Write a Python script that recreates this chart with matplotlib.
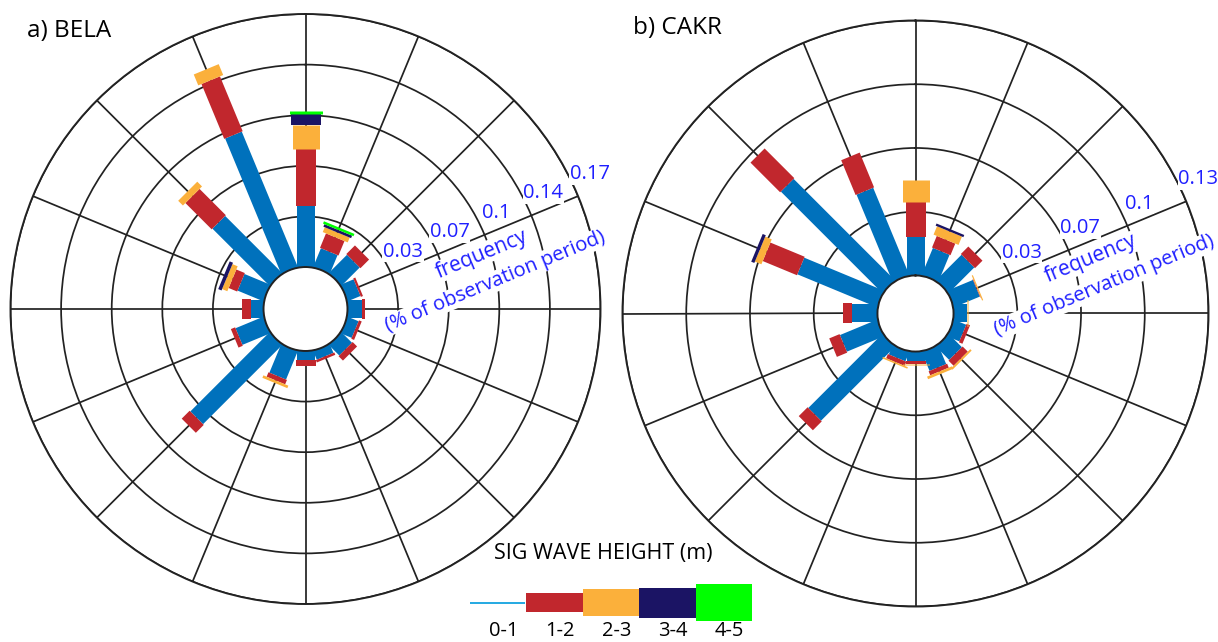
#!/usr/bin/env python3
"""Wave roses of significant wave height for BELA and CAKR buoys."""
import matplotlib
matplotlib.use("Agg")
import matplotlib.pyplot as plt  # noqa: E402
import numpy as np  # noqa: E402
from matplotlib.patches import Rectangle  # noqa: E402

plt.rcParams["font.family"] = ["Open Sans", "DejaVu Sans"]

DPI = 100
DIRECTIONS = ["N", "NNE", "NE", "ENE", "E", "ESE", "SE", "SSE",
              "S", "SSW", "SW", "WSW", "W", "WNW", "NW", "NNW"]
BINS = ["0-1", "1-2", "2-3", "3-4", "4-5"]

# frequency (fraction of observation period) per direction and height bin
BELA_01 = [0.041, 0.0135, 0.0173, 0.0093, 0.0095, 0.0079, 0.0099, 0.0062,
           0.006, 0.0206, 0.0752, 0.0202, 0.0087, 0.0187, 0.0542, 0.0983]
BELA_12 = [0.038, 0.0105, 0.0082, 0.0015, 0.0022, 0.002, 0.0042, 0.0017,
           0.004, 0.0032, 0.0075, 0.0031, 0.006, 0.0062, 0.025, 0.0399]
BELA_23 = [0.0166, 0.0035, 0, 0, 0, 0, 0, 0,
           0, 0.0018, 0, 0, 0, 0.0038, 0.0045, 0.0079]
BELA_34 = [0.0074, 0.0018, 0, 0, 0, 0, 0, 0,
           0, 0, 0, 0, 0, 0.0024, 0, 0]
BELA_45 = [0.0018, 0.0017, 0, 0, 0, 0, 0, 0,
           0, 0, 0, 0, 0, 0, 0, 0]

CAKR_01 = [0.0195, 0.0149, 0.0184, 0.0142, 0.0067, 0.0067, 0.0095, 0.0104,
           0.0048, 0.0051, 0.0533, 0.0204, 0.0132, 0.0439, 0.0731, 0.0481]
CAKR_12 = [0.0181, 0.0064, 0.0054, 0.0003, 0, 0.0019, 0.0037, 0.0022,
           0.0015, 0.0023, 0.0064, 0.0057, 0.0043, 0.0189, 0.0214, 0.0192]
CAKR_23 = [0.0111, 0.0046, 0, 0.0006, 0.0008, 0, 0.001, 0.0014,
           0.0005, 0.0008, 0, 0, 0, 0.0036, 0, 0]
CAKR_34 = [0, 0.0012, 0, 0, 0, 0, 0, 0,
           0, 0, 0, 0, 0, 0.0017, 0, 0]
CAKR_45 = [0] * 16

BELA_RINGS = [0.034, 0.068, 0.102, 0.136, 0.17]
BELA_RING_LABELS = ["0.03", "0.07", "0.1", "0.14", "0.17"]
CAKR_RINGS = [0.0325, 0.065, 0.0975, 0.13]
CAKR_RING_LABELS = ["0.03", "0.07", "0.1", "0.13"]

COLOURS = ["#0071bc", "#c1272d", "#fbb03b", "#1b1464", "#00ff00"]
BAR_PX = [18, 20, 27, 30, 33]          # bar thickness per bin (pixels)
LEGEND_PX = [2, 19, 27, 30, 37]        # legend swatch heights (pixels)
LEGEND_LINE = "#29abe2"
GRID = "#222222"
LABEL_BLUE = "#1f1fff"


def px2pt(px):
    return px * 72.0 / DPI


def draw_rose(ax, stacks, rings, ring_labels, hole):
    theta = np.deg2rad(np.arange(len(DIRECTIONS)) * 22.5)
    ax.set_theta_zero_location("N")
    ax.set_theta_direction(-1)
    ax.set_rorigin(-hole)
    ax.set_ylim(0, rings[-1])

    cum = np.zeros(len(DIRECTIONS))
    for vals, col, w in zip(stacks, COLOURS, BAR_PX):
        vals = np.asarray(vals, dtype=float)
        for t, c0, v in zip(theta, cum, vals):
            if v <= 0:
                continue
            start = c0 if c0 > 0 else -0.004   # tuck under the hole, clipped
            ax.plot([t, t], [start, c0 + v], color=col, lw=px2pt(w),
                    solid_capstyle="butt", zorder=2)
        cum = cum + vals

    ax.set_xticks(theta)
    ax.set_xticklabels([])
    ax.set_yticks(rings)
    ax.set_yticklabels([])
    ax.tick_params(length=0)
    ax.grid(True, color=GRID, lw=1.25)
    for sp in ("polar", "inner"):
        ax.spines[sp].set_color(GRID)
        ax.spines[sp].set_linewidth(1.4)

    # ring values along the ENE spoke
    t_lab = np.deg2rad(67.5)
    for r, lab in zip(rings, ring_labels):
        ax.annotate(lab, xy=(t_lab, r), xytext=(px2pt(12), px2pt(22)),
                    textcoords="offset points", ha="center", va="center",
                    color=LABEL_BLUE, fontsize=14.5, annotation_clip=False,
                    bbox=dict(facecolor="white", edgecolor="none", pad=0.5))

    ax.text(0.799, 0.593, "frequency", transform=ax.transAxes, rotation=22.5,
            ha="center", va="center", color=LABEL_BLUE, fontsize=15,
            bbox=dict(facecolor="white", edgecolor="none", pad=0.3))
    ax.text(0.822, 0.547, "(% of observation period)", transform=ax.transAxes,
            rotation=22.5, ha="center", va="center", color=LABEL_BLUE,
            fontsize=14.5,
            bbox=dict(facecolor="white", edgecolor="none", pad=0.3))


W, H = 1218, 642
fig = plt.figure(figsize=(W / DPI, H / DPI), dpi=DPI)

ax_a = fig.add_axes([10.5 / W, 1 - 604 / H, 590 / W, 590 / H], projection="polar")
draw_rose(ax_a, [BELA_01, BELA_12, BELA_23, BELA_34, BELA_45],
          BELA_RINGS, BELA_RING_LABELS, hole=0.0282)

ax_b = fig.add_axes([622.5 / W, 1 - 606.5 / H, 586 / W, 586 / H], projection="polar")
draw_rose(ax_b, [CAKR_01, CAKR_12, CAKR_23, CAKR_34, CAKR_45],
          CAKR_RINGS, CAKR_RING_LABELS, hole=0.0194)

fig.text(27 / W, 1 - 31 / H, "a) BELA", ha="left", va="center", fontsize=17.5)
fig.text(633 / W, 1 - 28 / H, "b) CAKR", ha="left", va="center", fontsize=17.5)

# legend
fig.text(603 / W, 1 - 553 / H, "SIG WAVE HEIGHT (m)", ha="center", va="center",
         fontsize=15.5)
lax = fig.add_axes([470 / W, 1 - 625 / H, 282 / W, 45 / H])
lax.set_xlim(0, len(BINS))
lax.set_ylim(-22.5, 22.5)
lax.axis("off")
for i, (lab, col, h) in enumerate(zip(BINS, COLOURS, LEGEND_PX)):
    if i == 0:
        lax.plot([i, i + 0.98], [0, 0], color=LEGEND_LINE, lw=px2pt(h),
                 solid_capstyle="butt")
    else:
        lax.add_patch(Rectangle((i, -h / 2), 1, h, facecolor=col,
                                edgecolor="none"))
    lax.text(i + 0.6, -28.5, lab, ha="center", va="center", fontsize=14.5,
             clip_on=False)

fig.savefig("out.png", dpi=DPI)
